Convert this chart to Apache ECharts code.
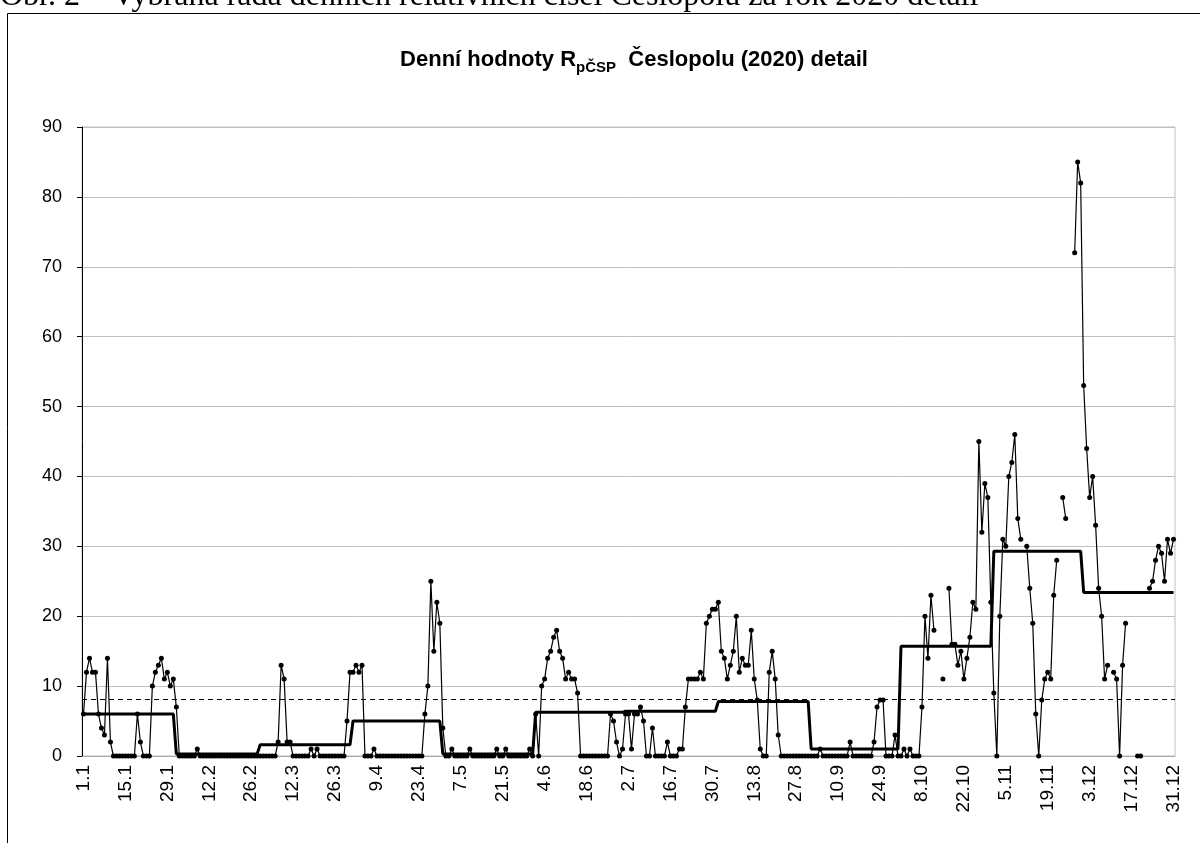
<!DOCTYPE html>
<html>
<head>
<meta charset="utf-8">
<script src="https://cdn.jsdelivr.net/npm/echarts@6/dist/echarts.min.js"></script>
<style>
  html, body { margin: 0; padding: 0; background: #fff; }
  #chart { width: 1200px; height: 843px; }
</style>
</head>
<body>
<div id="chart"></div>
<script>
// dny v mesici (rada nema 29.2)
var monthDays = [31, 28, 31, 30, 31, 30, 31, 31, 30, 31, 30, 31];

// denni hodnoty, null = chybi pozorovani
var jan = [6, 12, 14, 12, 12, 6, 4, 3, 14, 2, 0, 0, 0, 0, 0, 0, 0, 0, 6, 2, 0, 0, 0, 10, 12, 13, 14, 11, 12, 10, 11];
var feb = [7, 0, 0, 0, 0, 0, 0, 1, 0, 0, 0, 0, 0, 0, 0, 0, 0, 0, 0, 0, 0, 0, 0, 0, 0, 0, 0, 0];
var mar = [0, 0, 0, 0, 0, 0, 2, 13, 11, 2, 2, 0, 0, 0, 0, 0, 0, 1, 0, 1, 0, 0, 0, 0, 0, 0, 0, 0, 0, 5, 12];
var apr = [12, 13, 12, 13, 0, 0, 0, 1, 0, 0, 0, 0, 0, 0, 0, 0, 0, 0, 0, 0, 0, 0, 0, 0, 6, 10, 25, 15, 22, 19];
var may = [4, 0, 0, 1, 0, 0, 0, 0, 0, 1, 0, 0, 0, 0, 0, 0, 0, 0, 1, 0, 0, 1, 0, 0, 0, 0, 0, 0, 0, 1, 0];
var jun = [6, 0, 10, 11, 14, 15, 17, 18, 15, 14, 11, 12, 11, 11, 9, 0, 0, 0, 0, 0, 0, 0, 0, 0, 0, 6, 5, 2, 0, 1];
var jul = [6, 6, 1, 6, 6, 7, 5, 0, 0, 4, 0, 0, 0, 0, 2, 0, 0, 0, 1, 1, 7, 11, 11, 11, 11, 12, 11, 19, 20, 21, 21];
var aug = [22, 15, 14, 11, 13, 15, 20, 12, 14, 13, 13, 18, 11, 8, 1, 0, 0, 12, 15, 11, 3, 0, 0, 0, 0, 0, 0, 0, 0, 0, 0];
var sep = [0, 0, 0, 1, 0, 0, 0, 0, 0, 0, 0, 0, 0, 2, 0, 0, 0, 0, 0, 0, 0, 2, 7, 8, 8, 0, 0, 0, 3, 0];
var oct = [0, 1, 0, 1, 0, 0, 0, 7, 20, 14, 23, 18, null, null, 11, null, 24, 16, 16, 13, 15, 11, 14, 17, 22, 21, 45, 32, 39, 37, 22];
var nov = [9, 0, 20, 31, 30, 40, 42, 46, 34, 31, null, 30, 24, 19, 6, 0, 8, 11, 12, 11, 23, 28, null, 37, 34, null, null, 72, 85, 82];
var dec = [53, 44, 37, 40, 33, 24, 20, 11, 13, null, 12, 11, 0, 13, 19, null, null, null, 0, 0, null, null, 24, 25, 28, 30, 29, 25, 31, 29, 31];

// mesicni prumery a rocni prumer
var monthMeans = [6.0, 0.3, 1.6, 5.0, 0.3, 6.25, 6.4, 7.8, 1.0, 15.7, 29.3, 23.4];
var yearMean = 8.1;

var daily = [].concat(jan, feb, mar, apr, may, jun, jul, aug, sep, oct, nov, dec);
var dates = [];
var meanSteps = [];
monthDays.forEach(function (n, m) {
  for (var d = 1; d <= n; d++) {
    dates.push(d + '.' + (m + 1));
    meanSteps.push(monthMeans[m]);
  }
});

var chart = echarts.init(document.getElementById('chart'));
var font = 'Liberation Sans, Arial, sans-serif';

chart.setOption({
  animation: false,
  backgroundColor: '#fff',
  textStyle: { fontFamily: font },
  title: {
    left: 629,
    textAlign: 'center',
    top: 40,
    text: '{a|Denní hodnoty R}{b|pČSP}{a|  Česlopolu (2020) detail}',
    textStyle: {
      rich: {
        a: { fontFamily: font, fontSize: 22, fontWeight: 'bold', color: '#000', lineHeight: 30 },
        b: { fontFamily: font, fontSize: 15, fontWeight: 'bold', color: '#000', lineHeight: 30, verticalAlign: 'bottom', padding: [13, 0, 0, 0] }
      }
    }
  },
  graphic: [
    {
      type: 'rect',
      shape: { x: 7.5, y: 13.5, width: 1200, height: 900 },
      style: { fill: 'none', stroke: '#000', lineWidth: 1 }
    },
    {
      type: 'text',
      left: 0,
      top: -19,
      style: {
        text: 'Obr. 2 – Vybraná řada denních relativních čísel Česlopolu za rok 2020 detail',
        font: '32px "Liberation Serif", "Times New Roman", serif',
        fill: '#000'
      }
    }
  ],
  grid: {
    left: 82,
    right: 25,
    top: 127,
    bottom: 87,
    show: true,
    borderColor: '#bfbfbf',
    borderWidth: 1
  },
  xAxis: {
    type: 'category',
    data: dates,
    boundaryGap: true,
    axisLine: { lineStyle: { color: '#a6a6a6', width: 1 } },
    axisTick: { interval: 13, length: 5, lineStyle: { color: '#a6a6a6' } },
    axisLabel: {
      interval: 13,
      rotate: 90,
      margin: 9,
      color: '#000',
      fontSize: 19,
      fontFamily: font
    },
    splitLine: { show: false }
  },
  yAxis: {
    type: 'value',
    min: 0,
    max: 90,
    interval: 10,
    axisLine: { show: true, lineStyle: { color: '#000', width: 1 } },
    axisTick: { show: true, length: 5, lineStyle: { color: '#000' } },
    axisLabel: { color: '#000', fontSize: 18, fontFamily: font, margin: 20 },
    splitLine: { lineStyle: { color: '#c0c0c0', width: 1 } }
  },
  series: [
    {
      name: 'mesicni prumer',
      type: 'line',
      data: meanSteps,
      symbol: 'none',
      lineStyle: { color: '#000', width: 3 },
      z: 3
    },
    {
      name: 'denni hodnoty',
      type: 'line',
      data: daily,
      symbol: 'circle',
      symbolSize: 5,
      showAllSymbol: true,
      connectNulls: false,
      itemStyle: { color: '#000' },
      lineStyle: { color: '#000', width: 1.2 },
      z: 4,
      markLine: {
        silent: true,
        symbol: 'none',
        label: { show: false },
        lineStyle: { color: '#000', width: 1, type: [5, 4] },
        data: [{ yAxis: yearMean }]
      }
    }
  ]
});
</script>
</body>
</html>
